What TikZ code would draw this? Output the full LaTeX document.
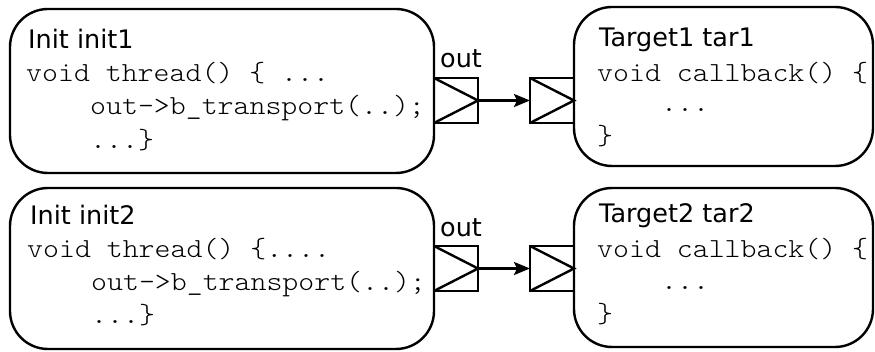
\documentclass[tikz,border=0pt]{standalone}
\usepackage{fontspec}
\newfontfamily\titlefont{DejaVu Sans}
\newfontfamily\codefont[FakeStretch=1.1]{lmmonolt10-regular.otf}
\usetikzlibrary{arrows.meta}
\tikzset{
  modbox/.style={draw, line width=2.4pt, rounded corners=38pt, inner sep=0pt, outer sep=0pt},
  portbox/.style={draw, line width=2.4pt, inner sep=0pt, outer sep=0pt, minimum width=44pt, minimum height=45pt},
  ttl/.style={anchor=base west, inner sep=0pt, font=\titlefont\fontsize{25.5}{30}\selectfont},
  code/.style={anchor=base west, inner sep=0pt, font=\codefont\fontsize{27.6}{30}\selectfont},
  conn/.style={line width=2.4pt, -{Stealth[length=16pt,width=13pt,inset=3pt]}},
  tri/.style={line width=2.4pt, line join=miter}
}
\begin{document}
\begin{tikzpicture}[x=1pt,y=-1pt]
\useasboundingbox (0,0) rectangle (875,352);
% module boxes
\node[modbox, minimum width=424pt, minimum height=164pt] (init1) at (222,91) {};
\node[modbox, minimum width=299pt, minimum height=159pt] (tar1) at (723.5,86.5) {};
\node[modbox, minimum width=424pt, minimum height=161pt] (init2) at (222,268.5) {};
\node[modbox, minimum width=299pt, minimum height=159pt] (tar2) at (723.5,267.5) {};
% ports
\node[portbox] (o1) at (456,100.5) {};
\node[portbox] (t1) at (552,100.5) {};
\node[portbox] (o2) at (456,268.5) {};
\node[portbox] (t2) at (552,268.5) {};
\foreach \p in {o1,t1,o2,t2}{
  \draw[tri] (\p.north west) -- (\p.east) -- (\p.south west);
}
\draw[conn] (o1.east) -- (t1.west);
\draw[conn] (o2.east) -- (t2.west);
% labels
\node[ttl] (l1) at (440,68) {out};
\node[ttl] (l2) at (440,237) {out};
% init1 text
\node[ttl] (a0) at (28,49) {Init init1};
\node[code] (a1) at (26,82) {void thread() \{ ...};
\node[code] (a2) at (90,115) {out->b\_transport(..);};
\node[code] (a3) at (90,149) {...\}};
% tar1 text
\node[ttl] (b0) at (599,47) {Target1 tar1};
\node[code] (b1) at (597,82) {void callback() \{};
\node[code] (b2) at (661,112) {...};
\node[code] (b3) at (597,145) {\}};
% init2 text
\node[ttl] (c0) at (30,225) {Init init2};
\node[code] (c1) at (27,258) {void thread() \{....};
\node[code] (c2) at (91,291) {out->b\_transport(..);};
\node[code] (c3) at (91,324) {...\}};
% tar2 text
\node[ttl] (d0) at (599,223) {Target2 tar2};
\node[code] (d1) at (597,258) {void callback() \{};
\node[code] (d2) at (661,290) {...};
\node[code] (d3) at (597,323) {\}};
\end{tikzpicture}
\end{document}
